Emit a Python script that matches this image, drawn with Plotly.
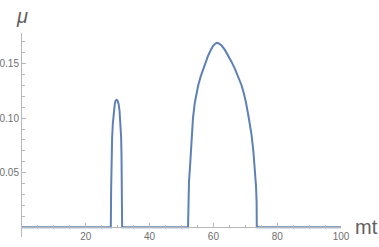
import plotly.graph_objects as go

# first arch (spike)
arch1_x = [27.84, 27.94, 28.06, 28.25, 28.47, 28.78, 29.1, 29.35, 29.63, 29.95, 30.26, 30.57, 30.89, 31.08, 31.2, 31.3, 31.39]
arch1_y = [0.0, 0.0339, 0.0643, 0.082, 0.0949, 0.107, 0.1132, 0.1160, 0.1168, 0.1160, 0.1132, 0.107, 0.0949, 0.082, 0.0643, 0.0339, 0.0]
# second arch
arch2_x = [52.05, 52.15, 52.35, 52.63, 52.9, 53.16, 53.6, 54.2, 54.7, 55.23, 56.0, 56.8, 57.6, 58.37, 59.1, 59.94,
           60.5, 61.0, 61.7, 62.57, 63.6, 64.64, 65.7, 66.75, 67.8, 68.85, 69.55, 70.2, 71.1, 71.98, 72.55, 73.02,
           73.35, 73.55, 73.6]
arch2_y = [0.0, 0.025, 0.042, 0.0537, 0.070, 0.0842, 0.100, 0.1146, 0.1225, 0.1299, 0.138, 0.1452, 0.152, 0.1574, 0.162, 0.1665,
           0.168, 0.169, 0.1684, 0.1665, 0.1625, 0.1574, 0.1515, 0.1452, 0.138, 0.1299, 0.1225, 0.1146, 0.100, 0.0842, 0.069, 0.0537,
           0.038, 0.0231, 0.0]

x_vals = [0.0] + arch1_x + arch2_x + [100.0]
y_vals = [0.0] + arch1_y + arch2_y + [0.0]

x_ticks = [20, 40, 60, 80, 100]
y_ticks = [0.05, 0.10, 0.15]
y_tick_text = ["0.05", "0.10", "0.15"]

y_min, y_max = -0.0089, 0.178
axis_col = "#b8b8b8"
lab_col = "#707070"

fig = go.Figure()
fig.add_trace(go.Scatter(x=x_vals, y=y_vals, mode="lines",
                         line=dict(color="#5E81B5", width=2),
                         hoverinfo="skip"))

fig.update_layout(
    width=379, height=247,
    margin=dict(l=22.25, r=38, t=32.5, b=10.3, autoexpand=False),
    paper_bgcolor="white", plot_bgcolor="white",
    showlegend=False,
    font=dict(family="Liberation Sans, Arial, sans-serif", size=10, color=lab_col),
    xaxis=dict(range=[0, 100], tickvals=x_ticks, ticks="inside", ticklen=4,
               tickcolor=axis_col, tickwidth=1, showgrid=False, zeroline=False,
               showline=True, linecolor=axis_col, linewidth=1, automargin=False,
               anchor="free", position=(0 - y_min) / (y_max - y_min),
               minor=dict(dtick=5, tick0=0, ticks="inside", ticklen=2.5, tickcolor=axis_col, showgrid=False),
               tickfont=dict(size=10, color=lab_col)),
    yaxis=dict(range=[y_min, y_max], tickvals=y_ticks, ticktext=y_tick_text,
               ticks="inside", ticklen=4, tickcolor=axis_col, tickwidth=1, automargin=False,
               showgrid=False, zeroline=False, showline=True, linecolor=axis_col, linewidth=1,
               minor=dict(tickvals=[0.01, 0.02, 0.03, 0.04, 0.06, 0.07, 0.08, 0.09, 0.11, 0.12, 0.13, 0.14, 0.16, 0.17],
                          ticks="inside", ticklen=2.5, tickcolor=axis_col, showgrid=False),
               tickfont=dict(size=10, color=lab_col)),
    annotations=[
        dict(text="<i>μ</i>", xref="paper", yref="paper", x=0.0, y=1.0, yshift=4,
             xanchor="center", yanchor="bottom", showarrow=False,
             font=dict(size=20, color="#606060")),
        dict(text="mt", xref="paper", yref="y", x=1.0, y=0, xshift=12,
             xanchor="left", yanchor="middle", showarrow=False,
             font=dict(size=20, color="#606060")),
    ],
)

fig.write_html("out.html", config={"displayModeBar": False},
               post_script="document.body.style.margin='0';document.body.style.padding='0';")
